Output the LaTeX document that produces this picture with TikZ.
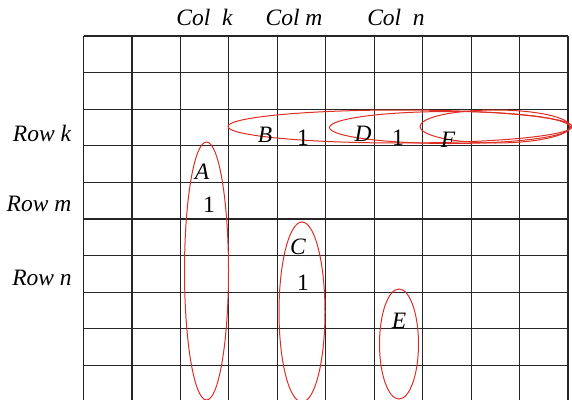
\documentclass[tikz,border=0pt]{standalone}
\usepackage{fontspec}
\setmainfont{Liberation Serif}
\usetikzlibrary{positioning}

\definecolor{ringred}{RGB}{222,45,35}

\tikzset{
  gridline/.style={line width=1.2pt, black!85},
  ring/.style={draw=ringred, line width=1pt},
  lbl/.style={font=\fontsize{23.5}{26}\selectfont\itshape, inner sep=0pt, anchor=base},
  one/.style={font=\fontsize{23.5}{26}\selectfont, inner sep=0pt, anchor=base}
}

\begin{document}
\begin{tikzpicture}[x=1pt,y=-1pt]
  \useasboundingbox (0,0) rectangle (572,399);
  % grid
  \foreach \i in {0,...,10}
    \draw[gridline] (83.5+\i*48.45,36) -- (83.5+\i*48.45,402);
  \foreach \j in {0,...,10}
    \draw[gridline] (83.5,36+\j*36.6) -- (568,36+\j*36.6);
  % column and row heads
  \node[lbl] (colk) at (204.5,25) {Col~~k};
  \node[lbl] (colm) at (294,25) {Col m};
  \node[lbl] (coln) at (396,25) {Col~~n};
  \node[lbl] (rowk) at (42,141) {Row k};
  \node[lbl] (rowm) at (39,211) {Row m};
  \node[lbl] (rown) at (42,285) {Row n};
  % rings
  \draw[ring] (206.5,271) ellipse (22 and 129);
  \draw[ring] (302,312) ellipse (23 and 90);
  \draw[ring] (399,344) ellipse (19.5 and 55);
  \draw[ring] (400,126.5) ellipse (172 and 16.5);
  \draw[ring] (450,127.5) ellipse (120.5 and 16);
  \draw[ring] (495,126.5) ellipse (75 and 16.5);
  % entries
  \node[lbl] (a) at (202,179) {A};
  \node[one] (a1) at (209,212) {1};
  \node[lbl] (b) at (265,142) {B};
  \node[one] (b1) at (303,145) {1};
  \node[lbl] (c) at (298,254) {C};
  \node[one] (c1) at (303,290) {1};
  \node[lbl] (d) at (363,141) {D};
  \node[one] (d1) at (398,145) {1};
  \node[lbl] (e) at (399,328) {E};
  \node[lbl] (f) at (448,147) {F};
\end{tikzpicture}
\end{document}
